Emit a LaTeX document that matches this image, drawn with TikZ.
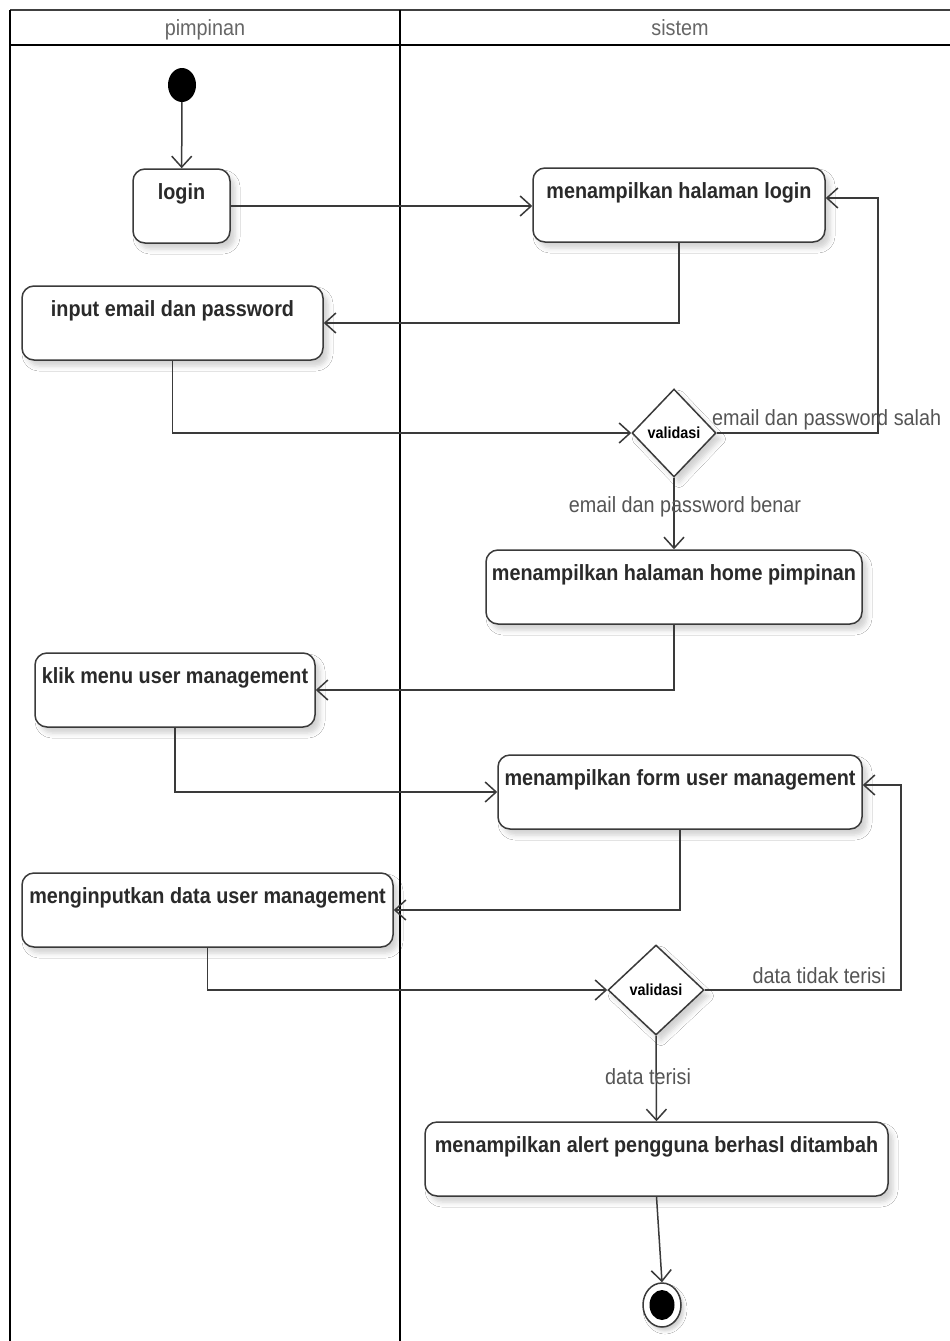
\documentclass[tikz,border=0pt]{standalone}
\usepackage{fontspec}
\setmainfont{Liberation Sans}[FakeStretch=0.9]
\usetikzlibrary{arrows.meta,shapes.geometric,shadows.blur}

\definecolor{ink}{HTML}{3A3A3A}
\definecolor{txt}{HTML}{2A2A2A}
\definecolor{lbltxt}{HTML}{555555}
\definecolor{headtxt}{HTML}{666666}

\tikzset{
  lane/.style={draw=black, line width=2.6pt},
  act/.style={draw=ink, line width=1.5pt, rounded corners=12pt, fill=white,
    inner xsep=4pt, inner ysep=0pt, text height=30pt, text depth=44pt,
    font=\fontsize{22}{26}\selectfont\bfseries, text=txt,
    blur shadow={shadow xshift=5pt, shadow yshift=-6pt, shadow blur radius=5pt, shadow opacity=18}},
  decide/.style={diamond, draw=ink, line width=1.5pt, fill=white, inner sep=0pt,
    minimum width=84pt, minimum height=88pt,
    font=\fontsize{16}{18}\selectfont\bfseries, text=black,
    blur shadow={shadow xshift=5pt, shadow yshift=-6pt, shadow blur radius=5pt, shadow opacity=18}},
  flow/.style={draw=ink, line width=1.5pt,
    -{Straight Barb[length=11pt, width=20pt, line width=1.5pt]}},
  lbl/.style={font=\fontsize{22}{26}\selectfont, text=lbltxt, inner sep=0pt},
  head/.style={font=\fontsize{22}{26}\selectfont, text=headtxt, inner sep=0pt},
}

\begin{document}
\begin{tikzpicture}[x=1pt, y=-1pt]
  \useasboundingbox (0,0) rectangle (950,1341);
  \fill[white] (0,0) rectangle (950,1341);

  % swimlanes
  \draw[draw=black!75, line width=2pt] (10,10) -- (950,10);
  \draw[lane] (10,45) -- (950,45);
  \draw[lane] (10,10) -- (10,1341);
  \draw[lane] (400,10) -- (400,1341);
  \node[head, anchor=base] (hpimpinan) at (205,35) {pimpinan};
  \node[head, anchor=base] (hsistem) at (680,35) {sistem};

  % start node
  \node[ellipse, fill=black, minimum width=28pt, minimum height=34pt, inner sep=0pt] (start) at (182,85) {};

  % actions
  \node[act, minimum width=97pt]  (login)  at (181.5,206) {login};
  \node[act, minimum width=292pt] (mhl)    at (679,205)   {menampilkan halaman login};
  \node[act, minimum width=301pt] (input)  at (172.5,323) {input email dan password};
  \node[decide]                   (val1)   at (674,433)   {validasi};
  \node[act, minimum width=376pt] (home)   at (674,587)   {menampilkan halaman home pimpinan};
  \node[act, minimum width=280pt] (klik)   at (175,690)   {klik menu user management};
  \node[act, minimum width=364pt] (form)   at (680,792)   {menampilkan form user management};
  \node[act, minimum width=371pt] (input2) at (207.5,910) {menginputkan data user management};
  \node[decide, minimum width=96pt, minimum height=90pt] (val2) at (656,990) {validasi};
  \node[act, minimum width=463pt] (alert)  at (656.5,1159) {menampilkan alert pengguna berhasl ditambah};

  % final node
  \node[ellipse, draw=ink, line width=1.5pt, fill=white, minimum width=38pt, minimum height=44pt, inner sep=0pt,
        blur shadow={shadow xshift=3pt, shadow yshift=-4pt, shadow blur radius=3pt, shadow opacity=18}] (final) at (662,1305) {};
  \node[ellipse, fill=black, minimum width=25pt, minimum height=30pt, inner sep=0pt] (finalcore) at (final.center) {};

  % control flow
  \draw[flow] (start) -- (login);
  \draw[flow] (login.east) -- (login.east -| mhl.west);
  \draw[flow] (mhl.south) |- (input.east);
  \draw[flow] (input.south) |- (val1.west);
  \draw[flow] (val1.east) -| ([xshift=52pt, yshift=7pt]mhl.east) -- ([yshift=7pt]mhl.east);
  \draw[flow] (val1.south) -- (home.north);
  \draw[flow] (home.south) |- (klik.east);
  \draw[flow] (klik.south) |- (form.west);
  \draw[flow] (form.south) |- (input2.east);
  \draw[flow] (input2.south) |- (val2.west);
  \draw[flow] (val2.east) -| ([xshift=38pt, yshift=7pt]form.east) -- ([yshift=7pt]form.east);
  \draw[flow] (val2.south) -- (alert.north);
  \draw[flow] (alert.south) -- (final.north);

  % guard labels
  \node[lbl, anchor=base west] (gsalah)  at (712,425)  {email dan password salah};
  \node[lbl, anchor=base]      (gbenar)  at (685,512)  {email dan password benar};
  \node[lbl, anchor=base east] (gkosong) at (886,983)  {data tidak terisi};
  \node[lbl, anchor=base]      (gisi)    at (648,1084) {data terisi};
\end{tikzpicture}
\end{document}
